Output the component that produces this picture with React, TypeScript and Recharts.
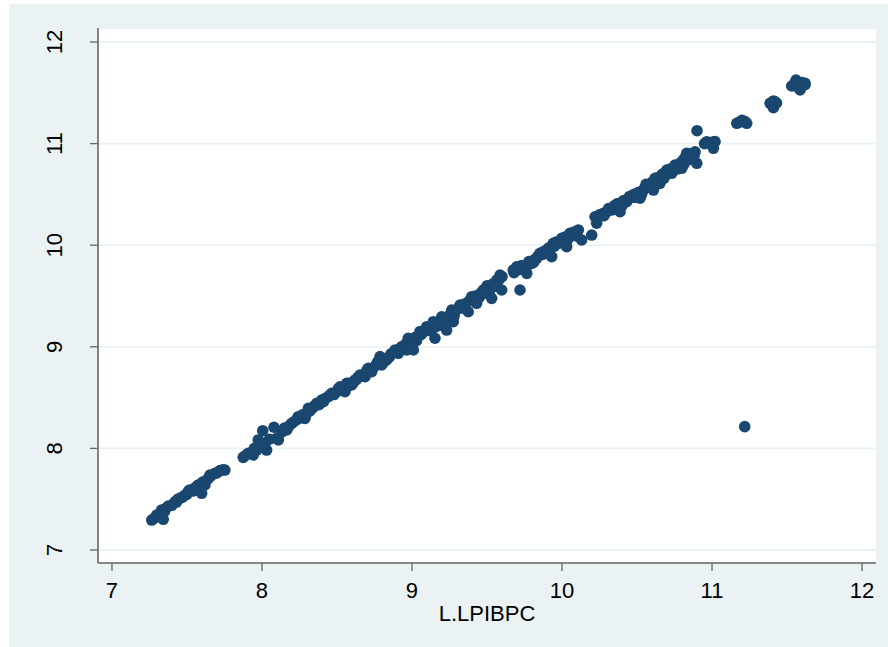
import React from 'react';
import { ScatterChart, Scatter, XAxis, YAxis, CartesianGrid } from 'recharts';

// L.LPIBPC (lag) values on the x axis
const lagValues: number[] = [
  7.265, 7.298, 7.331, 7.342, 7.375, 7.42, 7.453, 7.487, 7.52, 7.553, 7.598, 7.575, 7.609, 7.653, 7.687, 7.72, 7.753,
  7.875, 7.909, 7.942, 7.965, 7.975, 8.005, 7.998, 8.031, 8.08, 8.098,
  8.109, 8.165, 8.198, 8.242, 8.287, 8.309, 8.365, 8.398, 8.442, 8.465, 8.52, 8.553, 8.565, 8.598, 8.62, 8.653, 8.687,
  8.709, 8.731, 8.787, 8.798, 8.831, 8.887, 8.909, 8.953, 8.975, 8.965,
  8.987, 9.009, 9.053, 9.098, 9.142, 9.153, 9.198, 9.231, 9.265, 9.275, 9.32, 9.375, 9.398, 9.431, 9.475, 9.509, 9.531,
  9.565, 9.587, 9.598, 9.675, 9.72, 9.698, 9.765, 9.798, 9.831,
  9.853, 9.909, 9.942, 9.931, 9.998, 10.031, 10.053, 10.109, 10.131, 10.198, 10.22, 10.231, 10.275, 10.32, 10.365, 10.387,
  10.431, 10.475, 10.52, 10.542, 10.575, 10.609, 10.62,
  10.587, 10.653, 10.665, 10.698, 10.731, 10.753, 10.798, 10.809, 10.831, 10.865, 10.887, 10.898, 10.9,
  10.965, 11.009, 11.009, 11.165, 11.22, 11.231, 11.387, 11.42, 11.409, 11.531, 11.56, 11.587, 11.62, 11.575,
  11.218,
];

// LPIBPC values on the y axis
const values: number[] = [
  7.295, 7.344, 7.394, 7.302, 7.433, 7.475, 7.509, 7.541, 7.591, 7.607, 7.558, 7.64, 7.672, 7.738, 7.755, 7.781, 7.787,
  7.912, 7.952, 7.935, 7.984, 8.083, 8.174, 8.05, 7.984, 8.208, 8.099,
  8.083, 8.181, 8.247, 8.312, 8.296, 8.395, 8.444, 8.476, 8.509, 8.542, 8.607, 8.558, 8.641, 8.624, 8.673, 8.722, 8.706,
  8.788, 8.755, 8.903, 8.821, 8.87, 8.969, 8.936, 9.018, 9.084, 8.969,
  9.067, 8.969, 9.149, 9.198, 9.247, 9.084, 9.296, 9.165, 9.362, 9.247, 9.411, 9.345, 9.493, 9.428, 9.559, 9.576, 9.477,
  9.657, 9.707, 9.559, 9.756, 9.559, 9.788, 9.723, 9.822, 9.871,
  9.92, 9.969, 10.019, 9.887, 10.068, 9.985, 10.117, 10.15, 10.052, 10.1, 10.28, 10.216, 10.314, 10.346, 10.379, 10.33,
  10.428, 10.477, 10.462, 10.543, 10.593, 10.543, 10.658,
  10.576, 10.609, 10.691, 10.74, 10.708, 10.789, 10.757, 10.839, 10.905, 10.871, 10.92, 10.806, 11.127,
  11.019, 11.019, 10.954, 11.2, 11.217, 11.2, 11.397, 11.412, 11.354, 11.567, 11.626, 11.528, 11.593, 11.576,
  8.214,
];

const moreLagValues: number[] = [
  7.28, 7.31, 7.35, 7.36, 7.4, 7.43, 7.44, 7.47, 7.5, 7.51, 7.54, 7.56, 7.58, 7.6, 7.62, 7.64, 7.66, 7.7, 7.74,
  7.89, 7.93, 7.95, 7.99, 8.02, 8.05,
  8.13, 8.15, 8.18, 8.21, 8.23, 8.26, 8.27, 8.3, 8.32, 8.34, 8.35, 8.38, 8.41, 8.42, 8.45, 8.48, 8.5, 8.51, 8.54, 8.57,
  8.58, 8.61, 8.63, 8.64, 8.67, 8.69, 8.7, 8.74, 8.76, 8.77, 8.81, 8.82, 8.85, 8.86, 8.89, 8.92, 8.93, 8.96, 9.0, 9.02,
  9.03, 9.06, 9.08, 9.11, 9.12, 9.15, 9.17, 9.18, 9.21, 9.22, 9.25, 9.28, 9.29, 9.31, 9.34, 9.35, 9.38, 9.41, 9.42,
  9.45, 9.46, 9.49, 9.5, 9.52, 9.54, 9.56, 9.58, 9.6,
  9.68, 9.71, 9.73, 9.76, 9.78, 9.81, 9.82, 9.84, 9.87, 9.88, 9.9, 9.92, 9.95, 9.96, 9.98, 10.01, 10.02, 10.04, 10.07,
  10.08, 10.1,
  10.24, 10.25, 10.28, 10.3, 10.31, 10.34, 10.35, 10.37, 10.4, 10.41, 10.44, 10.45, 10.48, 10.49, 10.51, 10.53, 10.55,
  10.56, 10.59, 10.6, 10.63, 10.64, 10.67, 10.68, 10.7, 10.72, 10.74, 10.76, 10.77, 10.79, 10.81, 10.82, 10.84, 10.85,
  10.87, 10.88,
  10.95, 10.99, 11.02, 11.18, 11.2, 11.4, 11.43, 11.41, 11.55, 11.57, 11.6, 11.62,
];

const moreValues: number[] = [
  7.31, 7.33, 7.38, 7.41, 7.44, 7.47, 7.5, 7.52, 7.55, 7.58, 7.58, 7.62, 7.6, 7.66, 7.64, 7.7, 7.73, 7.76, 7.79,
  7.93, 7.96, 8.0, 8.02, 8.05, 8.09,
  8.16, 8.2, 8.22, 8.26, 8.28, 8.3, 8.33, 8.35, 8.37, 8.4, 8.42, 8.43, 8.46, 8.49, 8.52, 8.53, 8.56, 8.59, 8.6, 8.61,
  8.64, 8.65, 8.68, 8.7, 8.72, 8.74, 8.77, 8.79, 8.82, 8.85, 8.85, 8.88, 8.9, 8.93, 8.95, 8.98, 9.0, 9.03, 9.05, 9.09,
  9.06, 9.12, 9.15, 9.16, 9.2, 9.19, 9.24, 9.21, 9.27, 9.24, 9.31, 9.3, 9.35, 9.38, 9.38, 9.42, 9.45, 9.46, 9.5,
  9.49, 9.53, 9.53, 9.6, 9.56, 9.62, 9.6, 9.66, 9.69,
  9.73, 9.76, 9.8, 9.78, 9.84, 9.83, 9.86, 9.89, 9.91, 9.94, 9.93, 9.98, 9.99, 10.03, 10.02, 10.05, 10.08, 10.06, 10.1,
  10.13, 10.09,
  10.27, 10.3, 10.29, 10.33, 10.36, 10.35, 10.39, 10.41, 10.39, 10.44, 10.45, 10.48, 10.5, 10.47, 10.52, 10.5, 10.56,
  10.6, 10.59, 10.62, 10.66, 10.63, 10.7, 10.66, 10.72, 10.75, 10.73, 10.78, 10.75, 10.81, 10.79, 10.86, 10.84, 10.9,
  10.85, 10.88,
  11.0, 11.0, 11.02, 11.21, 11.23, 11.4, 11.4, 11.42, 11.59, 11.56, 11.6, 11.58,
];

const xTicks: number[] = [7, 8, 9, 10, 11, 12];
const yTicks: number[] = [7, 8, 9, 10, 11, 12];
const xTitle = 'L.LPIBPC';

const points = [
  ...lagValues.map((x, i) => ({ x, y: values[i] })),
  ...moreLagValues.map((x, i) => ({ x, y: moreValues[i] })),
];

const FONT = '"Liberation Sans", Arial, Helvetica, sans-serif';
const AXIS = '#666666';
const MARKER = '#1A476F';
const BG = '#EAF2F3';

const YTick = (props: any) => {
  const { y, payload } = props;
  const tx = 53;
  return (
    <text
      x={tx}
      y={y}
      transform={`rotate(-90, ${tx}, ${y})`}
      textAnchor="middle"
      fontFamily={FONT}
      fontSize={22}
      fill="#000"
    >
      {payload.value}
    </text>
  );
};

const XTick = (props: any) => {
  const { x, payload } = props;
  return (
    <text x={x} y={594} textAnchor="middle" fontFamily={FONT} fontSize={22} fill="#000">
      {payload.value}
    </text>
  );
};

const XTitle = (props: any) => {
  const vb = props.viewBox || {};
  const cx = (vb.x ?? 89) + (vb.width ?? 778) / 2;
  return (
    <text x={cx} y={617} textAnchor="middle" fontFamily={FONT} fontSize={22} fill="#000">
      {xTitle}
    </text>
  );
};

const Dot = (props: any) => {
  const { cx, cy } = props;
  if (cx == null || cy == null) return null;
  return <circle cx={cx} cy={cy} r={5.8} fill={MARKER} />;
};

export default function App() {
  return (
    <div style={{ position: 'absolute', left: 9, top: 4, width: 879, height: 643, background: BG }}>
      <ScatterChart width={879} height={643} margin={{ top: 24, right: 12, bottom: 0, left: 0 }}>
        <CartesianGrid fill="#FFFFFF" stroke={BG} strokeWidth={1.8} vertical={false} />
        <XAxis
          type="number"
          dataKey="x"
          domain={[6.907, 12.093]}
          ticks={xTicks}
          allowDataOverflow
          height={84}
          tickSize={8}
          tick={<XTick />}
          axisLine={{ stroke: AXIS, strokeWidth: 1.6 }}
          tickLine={{ stroke: AXIS, strokeWidth: 1.3 }}
          label={<XTitle />}
        />
        <YAxis
          type="number"
          dataKey="y"
          domain={[6.872, 12.138]}
          ticks={yTicks}
          allowDataOverflow
          width={89}
          tickSize={8}
          tick={<YTick />}
          axisLine={{ stroke: AXIS, strokeWidth: 1.6 }}
          tickLine={{ stroke: AXIS, strokeWidth: 1.3 }}
        />
        <Scatter data={points} shape={<Dot />} isAnimationActive={false} />
      </ScatterChart>
    </div>
  );
}
